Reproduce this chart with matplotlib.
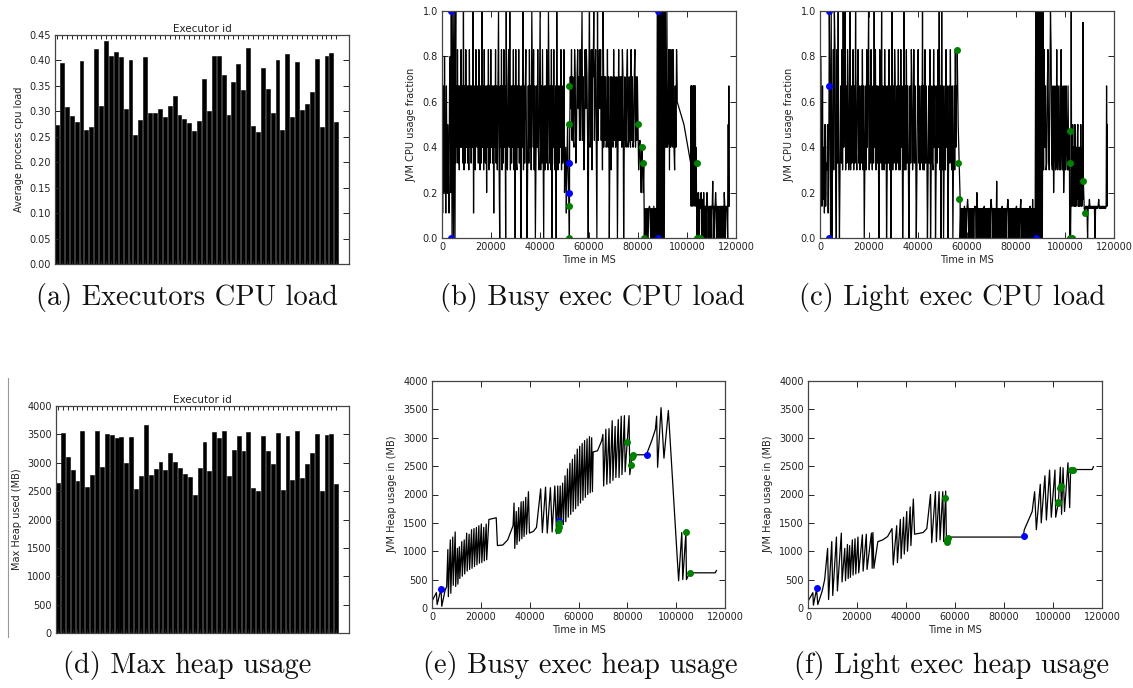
import numpy as np
import matplotlib
matplotlib.use("Agg")
import matplotlib.pyplot as plt
from matplotlib.lines import Line2D

# ---- (a) / (d): per-executor averages ----
executor_cpu = [0.273, 0.395, 0.309, 0.291, 0.279, 0.399, 0.263, 0.270, 0.422, 0.311,
                0.438, 0.409, 0.416, 0.407, 0.304, 0.401, 0.254, 0.283, 0.406, 0.296,
                0.296, 0.305, 0.289, 0.311, 0.331, 0.292, 0.284, 0.277, 0.262, 0.281,
                0.363, 0.301, 0.409, 0.408, 0.372, 0.293, 0.357, 0.393, 0.342, 0.424,
                0.272, 0.259, 0.385, 0.344, 0.297, 0.400, 0.263, 0.413, 0.289, 0.397,
                0.302, 0.315, 0.338, 0.403, 0.270, 0.409, 0.414, 0.280]
executor_heap = [2640, 3520, 3100, 2880, 2670, 3560, 2580, 2780, 3560, 2930,
                 3510, 3490, 3430, 3450, 3000, 3460, 2540, 2770, 3660, 2780,
                 2890, 3020, 2880, 3170, 3010, 2900, 2800, 2750, 2440, 2910,
                 3370, 2850, 3550, 3430, 3560, 2760, 3230, 3480, 3210, 3540,
                 2550, 2510, 3480, 3210, 2970, 3530, 2520, 3480, 2700, 3560,
                 2730, 2970, 3180, 3510, 2500, 3490, 3500, 2630]

# ---- CPU traces: sampled levels, one code per sample ----
CPU_LEVELS = {'0': 0.0, 'i': 0.11, '1': 0.13, 'a': 0.14, 'b': 0.17, '2': 0.2,
              'c': 0.25, 'd': 0.29, 'e': 0.3, '3': 0.33, '4': 0.4, 'f': 0.43,
              'm': 0.47, '5': 0.5, 'g': 0.57, 'h': 0.6, '6': 0.67, '7': 0.71,
              'j': 0.8, '8': 0.83, 'k': 0.95, '9': 1.0}

busy_cpu_start = [0, 3800, 5600, 50000, 52100, 66000, 80000, 82600, 87600,
                  91000, 96000, 101500, 104000, 107000, 116700]
busy_cpu_end = [3600, 5600, 50000, 52000, 66000, 80000, 82600, 87500, 91000,
                96000, 101500, 104000, 107000, 116600, 117200]
busy_cpu_codes = [
    "5i62j4i6253i6j2",
    "9090909",
    "364836e6484639e6384636e846" "3649i63e8546384e6394" "6e84362648e6384636i6"
    "4836e69e0648e6384609" "3e6849e63648e6083e64" "836e0649e636840e6384"
    "6e9648e6036484e69e63" "8406e6384e9636e80648" "3e6094e63648e6348e",
    "2e4i35e20",
    "f7g8f7f4873f78g7f8f7" "9f7ef8g87f0794f8e879" "f78f09f78g8f7e96",
    "47f74f8470f7e7f48f74" "f7048f7f74870f7f4784" "f7f48f74f7847f75",
    "5e4f3243230",
    "01010101a101010a0101",
    "09090909090909",
    "48494f8e84f8484e6486",
    "h53",
    "b6a6263b5a6d6b5263a6e4b3a2",
    "0b0a2a0b1a2a0b0a2a",
    "a0a0a2a01a0a0a1c0a0a2a0a01a0ia0a0a02a0a1a0",
    "a5a6a",
]
busy_cpu_blue_t = [3800, 3800, 52000, 52000, 88000, 88000]
busy_cpu_blue_v = [1.0, 0.0, 0.33, 0.2, 1.0, 0.0]
busy_cpu_green_t = [52000, 52000, 52000, 52000, 80000, 81500, 82000, 82500, 104000, 104000, 105500]
busy_cpu_green_v = [0.67, 0.5, 0.14, 0.0, 0.5, 0.4, 0.33, 0.0, 0.33, 0.0, 0.0]

light_cpu_start = [0, 3800, 8200, 56000, 57200, 87800, 91000, 101500, 107500, 108200, 116800]
light_cpu_end = [3600, 8200, 56000, 57200, 87800, 91000, 101500, 107500, 108200, 116800, 117300]
light_cpu_codes = [
    "2j5a6b4i5a3e5i4",
    "96090e8e98e0839e0e",
    "3638e9469e6386e49e63" "48e6394e6836e4638e60" "36e8469e6384e63948e6"
    "36e08639e64e8360e638" "e6049e6386e4638e6e84" "6039e6e83640e6386e48"
    "3640e6836e4639e6e836" "40e6380e63e8460e6384" "9e609e6036e8460e6384e6036e8466",
    "853b",
    "0101010a0101b10101010101a10210101010101a0101010101b10101010c01"
    "010101a01010101b1010101010101a010101b01010101010101a010b0101",
    "09090909090909",
    "6e846e3684e6983e6246e38e64e6e84e6236e64e6e",
    "4m30a0a9a3b5a4b2a5a3a4b2m5a3a4a2b5a3a4bk2",
    "c1i",
    "1a1a0a1b1a1a1a1a0a1a1ab1a1a1a1a1a1a",
    "a6a5",
]
light_cpu_blue_t = [3800, 3800, 3800, 88000]
light_cpu_blue_v = [1.0, 0.67, 0.0, 0.0]
light_cpu_green_t = [56000, 56500, 56800, 102000, 102000, 102000, 103000, 107300, 108000]
light_cpu_green_v = [0.83, 0.33, 0.17, 0.47, 0.33, 0.0, 0.0, 0.25, 0.11]

# ---- heap traces (ms, MB) ----
busy_heap_t = [0, 1800, 2100, 3700, 4000, 5300, 6000,
               6500, 6700, 7500, 7700, 8500, 8700, 9500, 9700, 10400, 10600, 11200, 11400,
               12200, 12400, 13200, 13400, 14200, 14400, 15200, 15400, 16200, 16400,
               17200, 17400, 18200, 18400, 19200, 19400, 20200, 20400, 21200, 21400,
               22200, 22400,
               23300, 26300, 26800, 29000, 31000, 33200,
               33600, 33900, 34500, 34800, 35500, 35800, 36500, 36800, 37400, 37700,
               38400, 38700, 39500,
               39900, 41500, 42800, 44500, 45200, 46500, 47200, 48500, 49200, 50300,
               51000, 51500, 51900,
               52500, 52800, 53500, 53800, 54500, 54800, 55500, 55800, 56500, 56800,
               57500, 57800, 58500, 58800, 59500, 59800, 60500, 60800, 61500, 61800,
               62500, 62800, 63500, 63800, 64500, 64800, 65400, 65700,
               66000, 67800, 69500, 70000, 70300, 71200, 71600, 72500, 72900, 73800,
               74100, 75000, 75300, 76300, 76600, 77500, 77800, 78800, 79100, 80700,
               81000, 81500, 81800, 82300, 87800, 90000, 91500, 92000, 92400, 93800,
               95000, 96800, 101000, 102300, 102700, 104000, 104200, 105500, 116000, 116500]
busy_heap_v = [120, 270, 60, 340, 30, 300, 380,
               1030, 200, 1200, 260, 1250, 400, 1340, 380, 1050, 420, 1080, 520,
               1170, 560, 1200, 600, 1320, 650, 1300, 680, 1380, 700,
               1400, 730, 1420, 760, 1450, 790, 1480, 800, 1420, 830,
               1480, 850,
               1560, 1590, 1100, 1110, 1200, 1450,
               1850, 1050, 1700, 1120, 1770, 1180, 1870, 1220, 1880, 1260,
               1950, 1300, 2050,
               1320, 1350, 1420, 2100, 1330, 2130, 1320, 2120, 1340, 2150,
               1310, 2150, 1380,
               2150, 1420, 2200, 1470, 2330, 1520, 2450, 1600, 2550, 1650,
               2620, 1700, 2700, 1750, 2800, 1800, 2850, 1850, 2900, 1900,
               2950, 1950, 2980, 2000, 3020, 2030, 3000, 2050,
               2750, 2770, 2950, 3060, 2150, 3150, 2180, 3160, 2200, 3300,
               2250, 3200, 2300, 3320, 2300, 3380, 2350, 3390, 2400, 3390,
               2350, 2520, 2680, 2700, 2700, 2950, 3150, 3380, 2480, 3530,
               2640, 3480, 480, 1330, 500, 1340, 500, 620, 620, 660]
busy_heap_blue_t = [3700, 52000, 88000]
busy_heap_blue_v = [340, 1540, 2700]
busy_heap_green_t = [52000, 52000, 51800, 80000, 81500, 81800, 82200, 104000, 105500]
busy_heap_green_v = [1500, 1420, 1380, 2930, 2520, 2660, 2700, 1340, 620]

light_heap_t = [0, 2000, 2200, 3500, 4000, 5800, 6800,
                8000, 8400, 9700, 10100, 11600, 12000, 13600, 13900, 15000, 15300,
                16100, 16400, 17000, 17300, 18100, 18400, 19200, 19500, 20400, 20700,
                22200, 22500, 23800, 24100, 25900, 26200, 26500, 26900,
                28500, 30500, 32500, 34300, 34800,
                36200, 36500, 37700, 38000, 39000, 39300, 40300, 40600, 41700, 42000,
                43000, 43500, 47000, 48500,
                50000, 50500, 52000, 52400, 53500, 53900, 55000, 55400, 56200,
                56500, 56800, 57500, 87800, 88300, 91500, 92500, 93200, 94800, 95200,
                96700, 97300, 98600, 99300, 100800, 101100, 102200, 103000, 103500,
                104100, 104700, 106100, 106800, 107200, 116000, 116500]
light_heap_v = [120, 270, 50, 330, 60, 300, 500,
                1050, 150, 1170, 220, 1250, 300, 1320, 460, 1050, 480,
                1120, 520, 1100, 540, 1200, 580, 1220, 600, 1250, 620,
                1290, 650, 1300, 680, 1320, 700, 1330, 700,
                1170, 1200, 1260, 1400, 760,
                1450, 800, 1560, 870, 1600, 950, 1700, 1000, 1780, 1100,
                1920, 1300, 1330, 1400,
                2000, 1150, 2050, 1170, 2050, 1200, 2050, 1170, 2060,
                1170, 1220, 1250, 1250, 1380, 1700, 2050, 1380, 2180, 1500,
                2330, 1550, 2430, 1600, 2430, 1600, 1860, 2480, 1650,
                2470, 1700, 2560, 1770, 2440, 2440, 2490]
light_heap_blue_t = [3800, 88000]
light_heap_blue_v = [350, 1260]
light_heap_green_t = [56000, 56600, 56800, 57000, 102000, 102200, 103000, 103200, 107500, 108200]
light_heap_green_v = [1940, 1170, 1200, 1240, 1860, 1850, 2110, 2150, 2440, 2440]

captions = ["(a) Executors CPU load", "(b) Busy exec CPU load", "(c) Light exec CPU load",
            "(d) Max heap usage", "(e) Busy exec heap usage", "(f) Light exec heap usage"]


def cpu_trace(starts, ends, codes):
    t, v = [], []
    for t0, t1, s in zip(starts, ends, codes):
        t.extend(np.linspace(t0, t1, len(s)))
        v.extend(CPU_LEVELS[c] for c in s)
    return t, v


def style(ax):
    ax.tick_params(direction='in', top=True, right=True, labelsize=7,
                   length=4, width=0.7, colors='#222222', pad=3)
    for sp in ax.spines.values():
        sp.set_linewidth(0.9)
        sp.set_color('#444444')


W, H = 1133, 688
fig = plt.figure(figsize=(W / 100, H / 100), dpi=100)


def px_axes(left, top, right, bottom):
    return fig.add_axes([left / W, 1 - bottom / H, (right - left) / W, (bottom - top) / H])


def bar_panel(ax, vals, ylabel, ymax, ystep, fmt):
    ax.bar(range(len(vals)), vals, width=0.8, align='edge', color='black',
           edgecolor='black', linewidth=0.4)
    ax.set_xlim(0, 60)
    ax.set_ylim(0, ymax)
    ax.set_yticks(np.arange(0, ymax + ystep / 2, ystep))
    ax.yaxis.set_major_formatter(matplotlib.ticker.FormatStrFormatter(fmt))
    ax.set_xticks(np.arange(len(vals)) + 0.4)
    ax.set_xticklabels([])
    style(ax)
    ax.tick_params(axis='x', length=3)
    ax.set_title("Executor id", fontsize=7.5, pad=2, color='#222222')
    ax.set_ylabel(ylabel, fontsize=7, color='#222222')


def trace_panel(ax, t, v, bt, bv, gt, gv, ylabel, ymax, ystep, fmt):
    ax.plot(t, v, color='black', lw=0.9)
    ax.plot(bt, bv, 'o', color='blue', ms=4, mec='blue')
    ax.plot(gt, gv, 'o', color='green', ms=4, mec='green')
    ax.set_xlim(0, 120000)
    ax.set_ylim(0, ymax)
    ax.set_xticks(np.arange(0, 120001, 20000))
    ax.set_yticks(np.arange(0, ymax + ystep / 2, ystep))
    ax.yaxis.set_major_formatter(matplotlib.ticker.FormatStrFormatter(fmt))
    style(ax)
    ax.set_xlabel("Time in MS", fontsize=7, color='#222222', labelpad=2)
    ax.set_ylabel(ylabel, fontsize=7, color='#222222')


ax_a = px_axes(55, 35, 349, 264)
bar_panel(ax_a, executor_cpu, "Average process cpu load", 0.45, 0.05, '%.2f')

ax_d = px_axes(56, 406, 349, 633)
bar_panel(ax_d, executor_heap, "Max Heap used (MB)", 4000, 500, '%d')

bt, bv = cpu_trace(busy_cpu_start, busy_cpu_end, busy_cpu_codes)
ax_b = px_axes(442, 11, 736, 238)
trace_panel(ax_b, bt, bv, busy_cpu_blue_t, busy_cpu_blue_v, busy_cpu_green_t, busy_cpu_green_v,
            "JVM CPU usage fraction", 1.0, 0.2, '%.1f')

lt, lv = cpu_trace(light_cpu_start, light_cpu_end, light_cpu_codes)
ax_c = px_axes(820, 11, 1114, 238)
trace_panel(ax_c, lt, lv, light_cpu_blue_t, light_cpu_blue_v, light_cpu_green_t, light_cpu_green_v,
            "JVM CPU usage fraction", 1.0, 0.2, '%.1f')

ax_e = px_axes(432, 381, 725, 608)
trace_panel(ax_e, busy_heap_t, busy_heap_v, busy_heap_blue_t, busy_heap_blue_v,
            busy_heap_green_t, busy_heap_green_v, "JVM Heap usage in (MB)", 4000, 500, '%d')

ax_f = px_axes(808, 381, 1102, 608)
trace_panel(ax_f, light_heap_t, light_heap_v, light_heap_blue_t, light_heap_blue_v,
            light_heap_green_t, light_heap_green_v, "JVM Heap usage in (MB)", 4000, 500, '%d')

# sub-figure captions
cap_pos = [(187, 298), (592, 298), (952, 298), (187, 665), (580, 665), (952, 665)]
for (cx, cy), txt in zip(cap_pos, captions):
    fig.text(cx / W, 1 - cy / H, txt, family='cmr10', fontsize=20.5,
             ha='center', va='center', color='#111111')

# thin rule left of panel (d)
fig.add_artist(Line2D([8 / W, 8 / W], [1 - 378 / H, 1 - 637 / H], color='#999999', lw=0.8))

fig.savefig("out.png", dpi=100, facecolor='white')
